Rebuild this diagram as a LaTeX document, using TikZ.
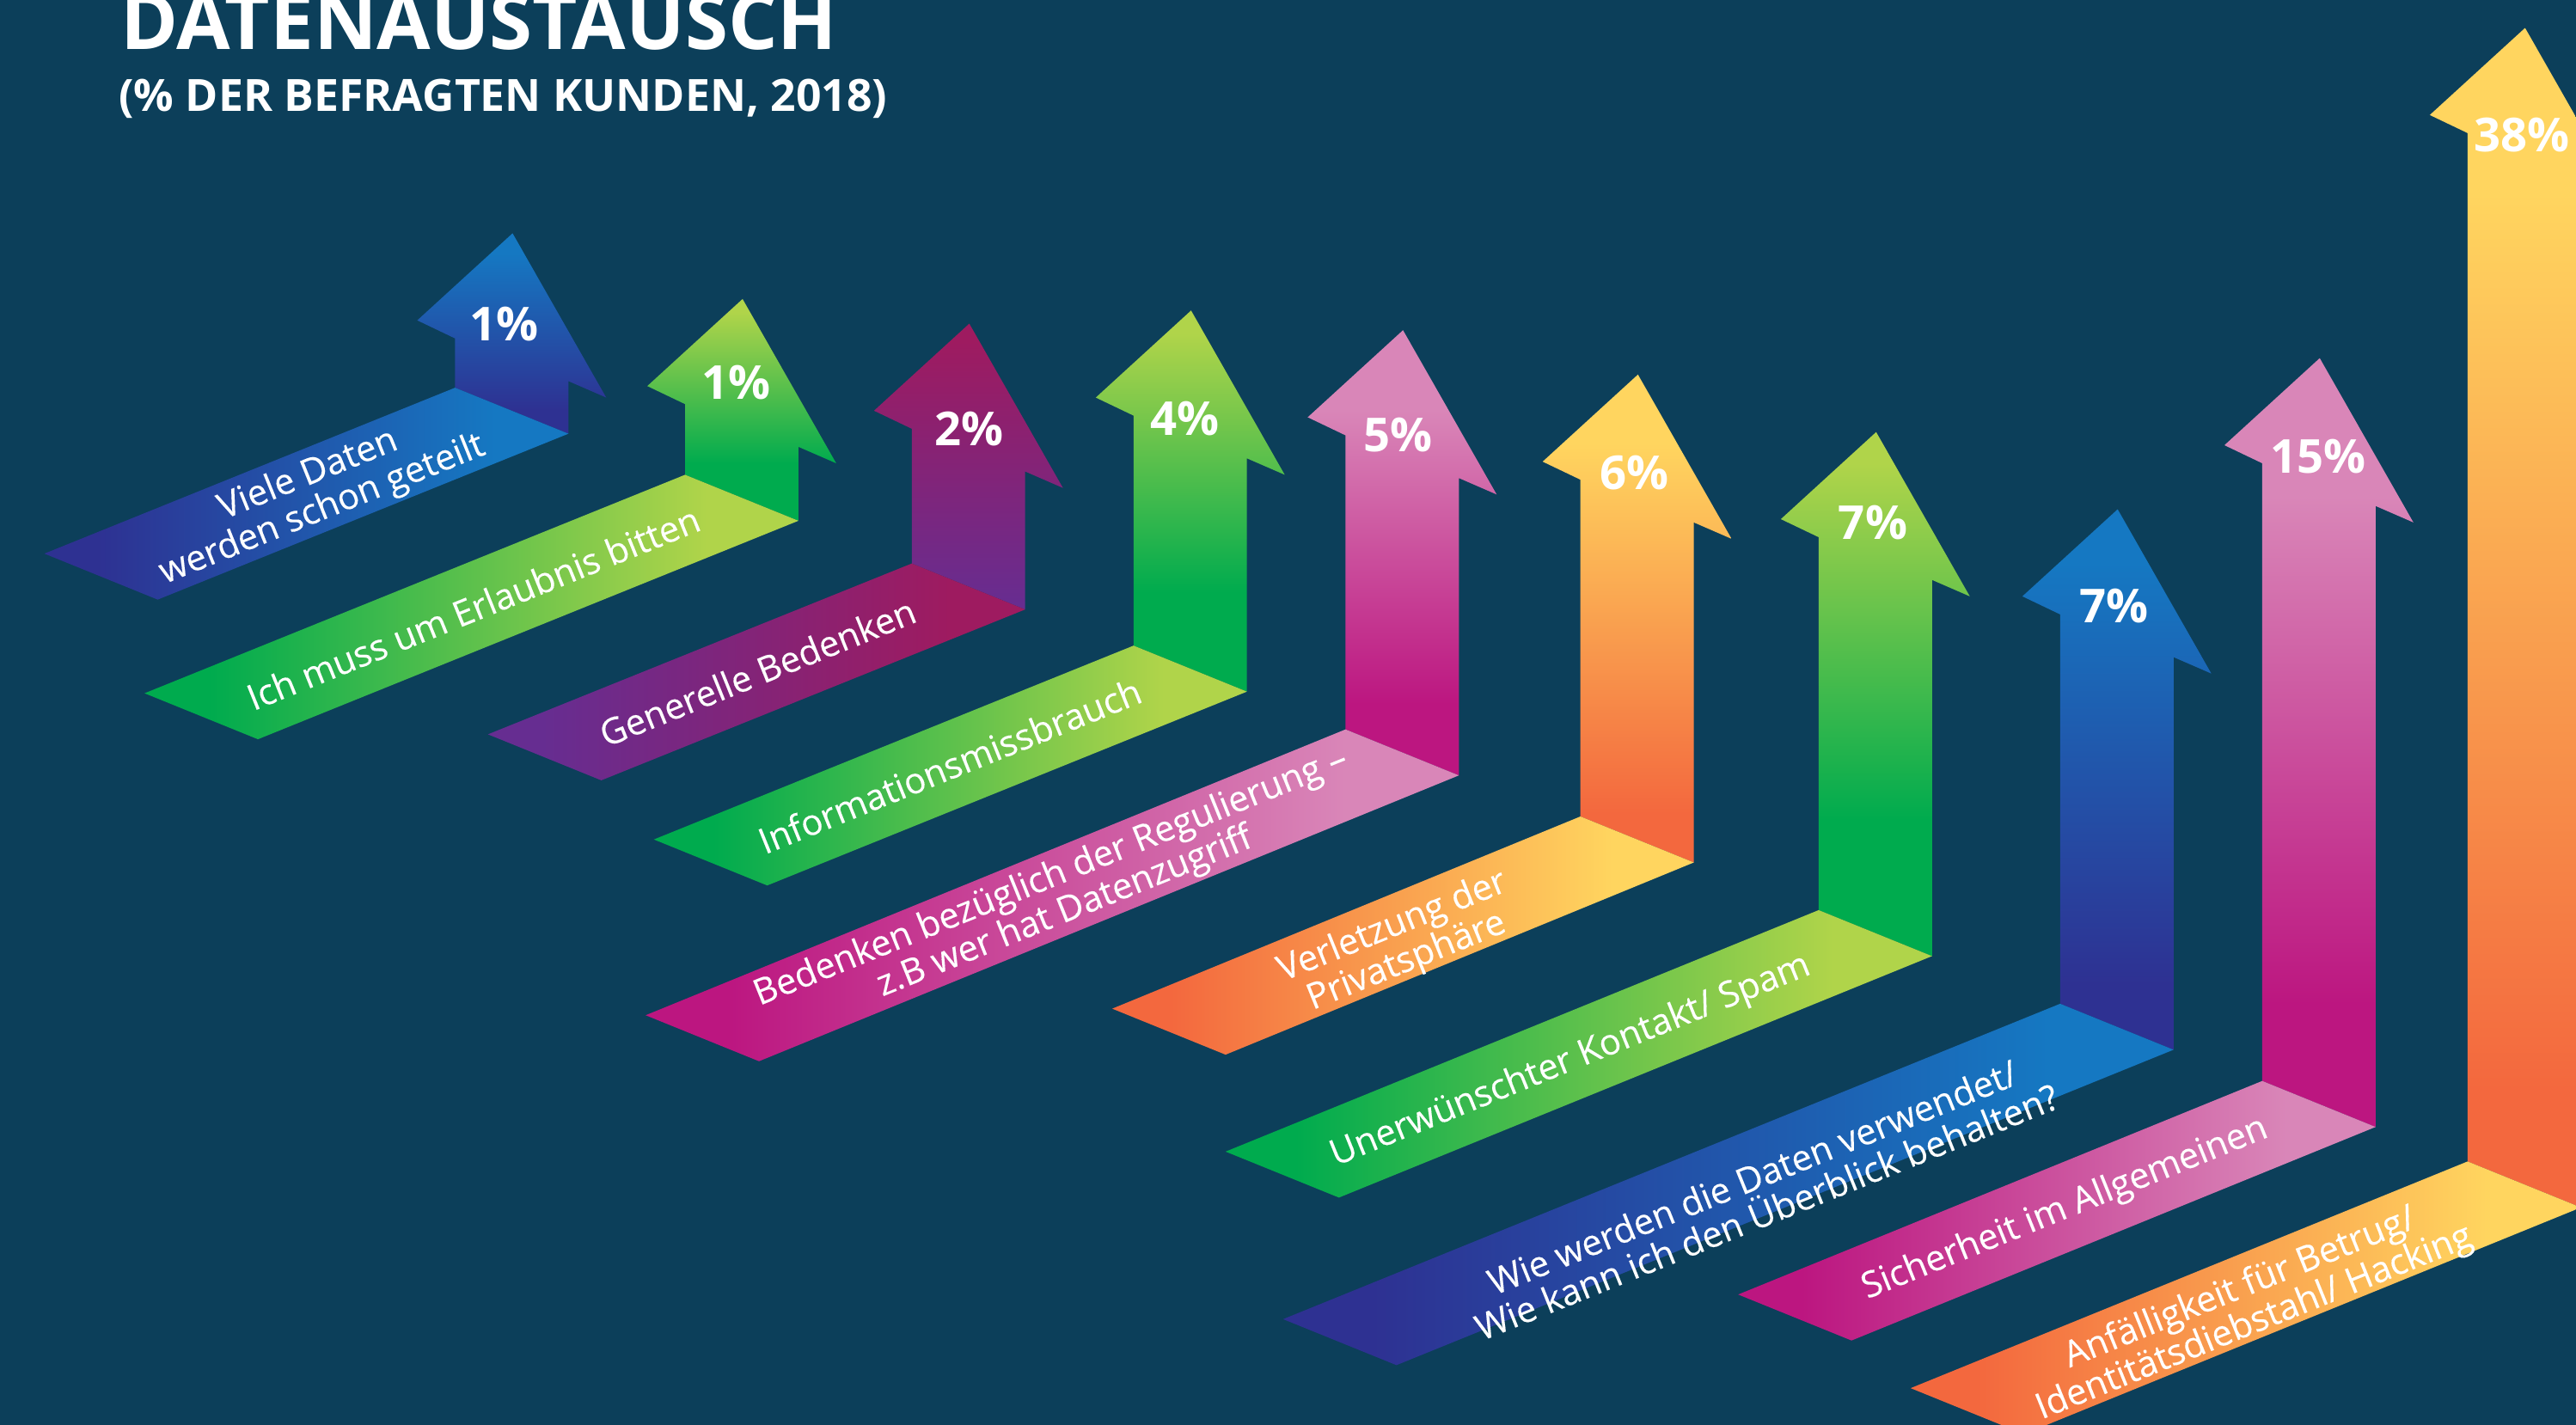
\documentclass[tikz,border=0pt]{standalone}
\usepackage{fontspec}
\setmainfont{Open Sans}
\newfontfamily\labfont[FakeBold=0.2]{Open Sans}
\definecolor{bgc}{HTML}{0C3F5A}
\definecolor{gA}{HTML}{00AB4E}\definecolor{gB}{HTML}{B0D44A}
\definecolor{bA}{HTML}{2E3192}\definecolor{bB}{HTML}{1578C2}
\definecolor{vA}{HTML}{662D91}\definecolor{vB}{HTML}{9E1B60}
\definecolor{pA}{HTML}{BC1680}\definecolor{pB}{HTML}{D986B8}
\definecolor{oA}{HTML}{F3683E}\definecolor{oB}{HTML}{FFD55F}
\pgfdeclareverticalshading{gV}{100bp}{color(0bp)=(gA);color(38bp)=(gA);color(72bp)=(gB);color(100bp)=(gB)}
\pgfdeclareverticalshading{bV}{100bp}{color(0bp)=(bA);color(31bp)=(bA);color(70bp)=(bB);color(100bp)=(bB)}
\pgfdeclareverticalshading{vV}{100bp}{color(0bp)=(vA);color(25bp)=(vA);color(72bp)=(vB);color(100bp)=(vB)}
\pgfdeclareverticalshading{pV}{100bp}{color(0bp)=(pA);color(33bp)=(pA);color(66bp)=(pB);color(100bp)=(pB)}
\pgfdeclareverticalshading{oV}{100bp}{color(0bp)=(oA);color(30bp)=(oA);color(68bp)=(oB);color(100bp)=(oB)}
\pgfdeclarehorizontalshading{gH}{100bp}{color(0bp)=(gA);color(30bp)=(gA);color(68bp)=(gB);color(100bp)=(gB)}
\pgfdeclarehorizontalshading{bH}{100bp}{color(0bp)=(bA);color(30bp)=(bA);color(68bp)=(bB);color(100bp)=(bB)}
\pgfdeclarehorizontalshading{vH}{100bp}{color(0bp)=(vA);color(30bp)=(vA);color(68bp)=(vB);color(100bp)=(vB)}
\pgfdeclarehorizontalshading{pH}{100bp}{color(0bp)=(pA);color(30bp)=(pA);color(68bp)=(pB);color(100bp)=(pB)}
\pgfdeclarehorizontalshading{oH}{100bp}{color(0bp)=(oA);color(30bp)=(oA);color(68bp)=(oB);color(100bp)=(oB)}
% #1 palette, #2 xL, #3 yL, #4 yTip, #5 band left x, #6 band left y
\newcommand{\bigarrow}[6]{%
  \path[shading=#1V]
    (#2,#3) -- (#2,#4+64) -- (#2-23,#4+53) -- (#2+35,#4) -- (#2+92,#4+100)
    -- (#2+69,#4+90) -- (#2+69,#3+28) -- cycle;
  \path[shading=#1H]
    (#5,#6) -- (#2,#3) -- (#2+69,#3+28) -- (#5+69,#6+28) -- cycle;
}
\tikzset{
  pct/.style={text=white,font=\bfseries\fontsize{16.2}{19}\selectfont,inner sep=0pt},
  lab/.style={text=white,font=\labfont\fontsize{12.4}{13}\selectfont,inner sep=0pt,align=center,rotate=22},
}
\begin{document}
\begin{tikzpicture}[x=0.02cm,y=-0.02cm]
\useasboundingbox (0,0) rectangle (1568,867);
\clip (-2,-2) rectangle (1570,870);
\fill[bgc] (-2,-2) rectangle (1570,870);
\node[anchor=base west,text=white,font=\bfseries\fontsize{27}{32}\selectfont,inner sep=0pt] (title) at (73,30) {DATENAUSTAUSCH};
\node[anchor=base west,text=white,font=\bfseries\fontsize{15.4}{19}\selectfont,inner sep=0pt] (sub) at (72,68) {(\% DER BEFRAGTEN KUNDEN, 2018)};
\bigarrow{b}{277}{236}{142}{27}{337}
\bigarrow{g}{417}{289}{182}{88}{422}
\bigarrow{v}{555}{343}{197}{297}{447}
\bigarrow{g}{690}{393}{189}{398}{511}
\bigarrow{p}{819}{444}{201}{393}{618}
\bigarrow{o}{962}{497}{228}{677}{614}
\bigarrow{g}{1107}{554}{263}{746}{701}
\bigarrow{b}{1254}{611}{310}{781}{803}
\bigarrow{p}{1377}{658}{218}{1058}{788}
\bigarrow{o}{1502}{707}{17}{1163}{845}
\node[pct] (p1) at (307,197) {1\%};
\node[pct] (p2) at (448,233) {1\%};
\node[pct] (p3) at (590,261) {2\%};
\node[pct] (p4) at (721,255) {4\%};
\node[pct] (p5) at (851,265) {5\%};
\node[pct] (p6) at (995,288) {6\%};
\node[pct] (p7) at (1140,318) {7\%};
\node[pct] (p8) at (1287,369) {7\%};
\node[pct] (p9) at (1411,278) {15\%};
\node[pct] (p10) at (1535,82) {38\%};
\node[lab] (l1) at (192,300) {Viele Daten\\werden schon geteilt};
\node[lab] (l2) at (288,370) {Ich muss um Erlaubnis bitten};
\node[lab] (l3) at (461,409) {Generelle Bedenken};
\node[lab] (l4) at (578,466) {Informationsmissbrauch};
\node[lab] (l5) at (644,545) {Bedenken bezüglich der Regulierung –\\z.B wer hat Datenzugriff};
\node[lab] (l6) at (852,575) {Verletzung der\\Privatsphäre};
\node[lab] (l7) at (956,646) {Unerwünschter Kontakt/ Spam};
\node[lab] (l8) at (1071,727) {Wie werden die Daten verwendet/\\Wie kann ich den Überblick behalten?};
\node[lab] (l9) at (1257,736) {Sicherheit im Allgemeinen};
\node[lab] (l10) at (1368,795) {Anfälligkeit für Betrug/\\Identitätsdiebstahl/ Hacking};
\end{tikzpicture}
\end{document}
